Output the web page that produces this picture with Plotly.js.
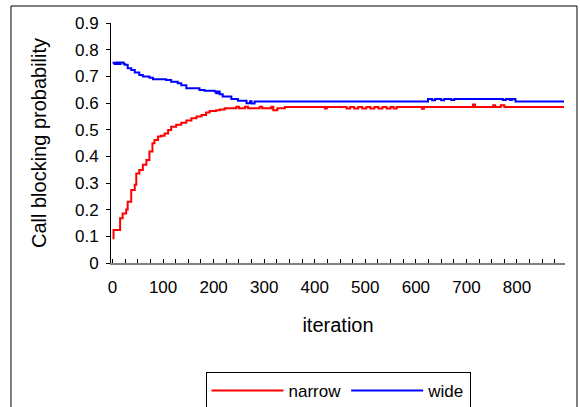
<!DOCTYPE html>
<html>
<head>
<meta charset="utf-8">
<script src="https://cdn.plot.ly/plotly-3.0.1.min.js"></script>
<style>
    body { margin: 0; background: #fff; }
    #chart { width: 580px; height: 407px; }
</style>
</head>
<body>
<div id="chart"></div>
<script>
// data (step changes only)
const narrowIter = [0, 2, 15, 20, 27, 30, 37, 44, 47, 53, 60, 67, 73, 79, 83, 90, 96, 103, 110, 116,
    126, 136, 146, 156, 166, 176, 185, 192, 205, 212, 222, 245, 250, 262, 268, 291, 296, 314, 318, 326,
    341, 420, 424, 463, 470, 478, 486, 494, 502, 510, 518, 526, 534, 542, 550, 556, 562, 612, 616,
    713, 717, 753, 757, 768, 775, 893]
const narrowProb = [0.093, 0.124, 0.168, 0.186, 0.201, 0.23, 0.274, 0.293, 0.336, 0.349, 0.368, 0.386, 0.418, 0.449, 0.461, 0.474, 0.477, 0.486, 0.499, 0.511,
    0.518, 0.526, 0.534, 0.543, 0.549, 0.555, 0.564, 0.570, 0.573, 0.576, 0.580, 0.586, 0.580, 0.586, 0.580, 0.586, 0.580, 0.586, 0.573, 0.580,
    0.585, 0.579, 0.585, 0.579, 0.585, 0.579, 0.585, 0.579, 0.585, 0.579, 0.585, 0.579, 0.585, 0.579, 0.585, 0.579, 0.585, 0.578, 0.585,
    0.594, 0.585, 0.592, 0.585, 0.592, 0.585, 0.585]

const wideIter = [0, 4, 8, 12, 16, 22, 24, 30, 37, 44, 53, 60, 73, 80, 106, 116, 129, 136, 146, 172,
    182, 202, 205, 208, 212, 218, 235, 248, 265, 272, 275, 281, 624, 632, 638, 650, 656, 670, 676,
    772, 778, 786, 790, 797, 893]
const wideProb = [0.751, 0.746, 0.752, 0.746, 0.752, 0.747, 0.743, 0.730, 0.724, 0.714, 0.705, 0.699, 0.695, 0.689, 0.686, 0.680, 0.674, 0.667, 0.655, 0.649,
    0.646, 0.643, 0.637, 0.643, 0.633, 0.624, 0.615, 0.608, 0.599, 0.607, 0.598, 0.606, 0.615, 0.610, 0.615, 0.610, 0.615, 0.611, 0.615,
    0.611, 0.615, 0.611, 0.615, 0.606, 0.606]

const xTickVals = [0, 100, 200, 300, 400, 500, 600, 700, 800]

function plotBlocking() {
    const chart = document.getElementById('chart')

    const traces = [
        {
            x: narrowIter,
            y: narrowProb,
            mode: 'lines',
            name: 'narrow',
            line: { color: '#FF0000', width: 2, shape: 'hv' }
        },
        {
            x: wideIter,
            y: wideProb,
            mode: 'lines',
            name: 'wide',
            line: { color: '#0000FF', width: 2, shape: 'hv' }
        }
    ]

    const layout = {
        width: 580,
        height: 407,
        font: { family: 'Liberation Sans, Arial, sans-serif', size: 17, color: '#000' },
        margin: { l: 111, r: 15, t: 23, b: 144 },
        paper_bgcolor: '#fff',
        plot_bgcolor: '#fff',
        xaxis: {
            title: { text: 'iteration', standoff: 22 },
            range: [-3, 895],
            tickmode: 'array',
            tickvals: xTickVals,
            ticks: 'inside',
            ticklen: 4,
            tickcolor: '#000',
            ticklabelstandoff: 8,
            showline: true,
            linecolor: '#808080',
            linewidth: 2,
            showgrid: false,
            zeroline: false,
            minor: { dtick: 25, tick0: 0, ticks: 'inside', ticklen: 4, tickcolor: '#000', showgrid: false }
        },
        yaxis: {
            title: { text: 'Call blocking probability', standoff: 22 },
            range: [0, 0.9],
            dtick: 0.1,
            ticks: 'outside',
            ticklen: 4,
            tickcolor: '#000',
            ticklabelstandoff: 4,
            showline: true,
            linecolor: '#000',
            linewidth: 1,
            showgrid: false,
            zeroline: false
        },
        showlegend: true,
        legend: {
            orientation: 'h',
            x: 0.5,
            xanchor: 'center',
            yref: 'container',
            y: 0.086,
            yanchor: 'top',
            bordercolor: '#000',
            borderwidth: 1,
            bgcolor: '#fff',
            itemwidth: 72,
            font: { size: 17 }
        },
        shapes: [
            {
                type: 'rect',
                xref: 'paper',
                yref: 'paper',
                x0: -0.2203,
                x1: 1.0264,
                y0: -0.75,
                y1: 1.0708,
                line: { color: '#000', width: 1 },
                fillcolor: 'rgba(0,0,0,0)',
                layer: 'below'
            }
        ]
    }

    Plotly.newPlot(chart, traces, layout, { displayModeBar: false, staticPlot: true })
}

plotBlocking()
</script>
</body>
</html>
